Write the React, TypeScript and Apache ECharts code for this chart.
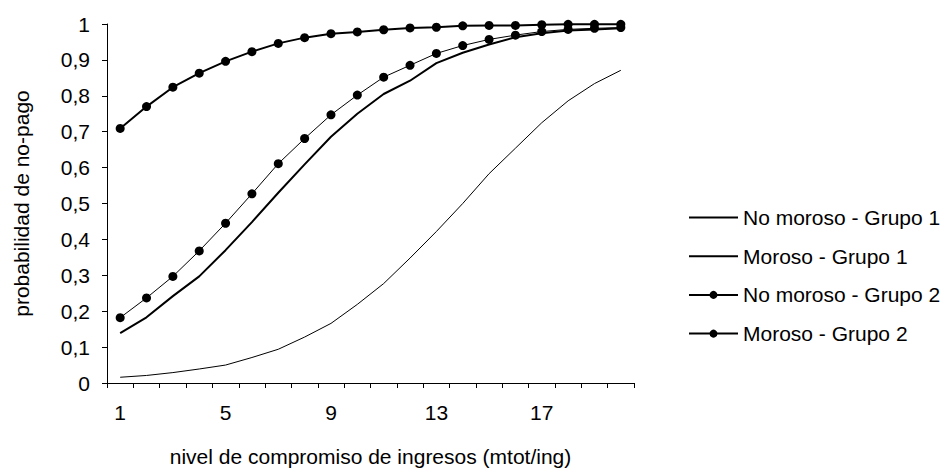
import React, { useEffect, useRef } from "react";
import * as echarts from "echarts";

const categories = ["1","2","3","4","5","6","7","8","9","10","11","12","13","14","15","16","17","18","19","20"];
const noMorosoG1 = [0.016,0.021,0.029,0.039,0.050,0.071,0.094,0.128,0.166,0.219,0.277,0.348,0.422,0.500,0.583,0.654,0.725,0.786,0.834,0.871];
const morosoG1 = [0.139,0.183,0.242,0.297,0.370,0.448,0.530,0.609,0.686,0.750,0.805,0.842,0.891,0.920,0.943,0.963,0.974,0.982,0.985,0.988];
const noMorosoG2 = [0.182,0.237,0.297,0.368,0.445,0.527,0.611,0.681,0.747,0.802,0.852,0.885,0.918,0.940,0.957,0.969,0.979,0.985,0.988,0.990];
const morosoG2 = [0.709,0.770,0.824,0.863,0.896,0.923,0.946,0.962,0.973,0.978,0.984,0.989,0.991,0.995,0.996,0.996,0.998,0.999,0.999,0.999];
const seriesNames = ["No moroso - Grupo 1","Moroso - Grupo 1","No moroso - Grupo 2","Moroso - Grupo 2"];

const FONT = "Liberation Sans";
const FS = 21;

export default function App() {
  const ref = useRef<HTMLDivElement>(null);
  useEffect(() => {
    if (!ref.current) return;
    const chart = echarts.init(ref.current, undefined, { renderer: "svg" });
    const mk = (name: string, data: number[], width: number, marker: boolean) => ({
      name,
      type: "line",
      data,
      symbol: marker ? "circle" : "none",
      symbolSize: 9,
      showSymbol: marker,
      lineStyle: { color: "#000", width },
      itemStyle: { color: "#000", opacity: marker ? 1 : 0 },
      z: marker ? 3 : 2,
    });
    chart.setOption({
      animation: false,
      backgroundColor: "#fff",
      textStyle: { fontFamily: FONT, color: "#000" },
      grid: { left: 107, top: 24, right: 309, bottom: 84, containLabel: false },
      legend: {
        orient: "vertical",
        left: 683,
        top: 202,
        itemWidth: 49,
        itemHeight: 10,
        itemGap: 17.7,
        data: seriesNames,
        textStyle: { fontFamily: FONT, fontSize: FS, lineHeight: 20, color: "#000" },
      },
      xAxis: {
        type: "category",
        data: categories,
        boundaryGap: true,
        name: "nivel de compromiso de ingresos (mtot/ing)",
        nameLocation: "middle",
        nameGap: 63,
        nameTextStyle: { fontFamily: FONT, fontSize: FS, color: "#000" },
        axisLine: { lineStyle: { color: "#000", width: 1 } },
        axisTick: { show: true, interval: 0, length: 5, lineStyle: { color: "#000" } },
        axisLabel: { interval: 3, margin: 19, fontFamily: FONT, fontSize: FS, color: "#000" },
        splitLine: { show: false },
      },
      yAxis: {
        type: "value",
        min: 0,
        max: 1,
        interval: 0.1,
        name: "probabilidad de no-pago",
        nameLocation: "middle",
        nameGap: 75,
        nameRotate: 90,
        nameTextStyle: { fontFamily: FONT, fontSize: FS, color: "#000" },
        axisLine: { show: true, lineStyle: { color: "#000", width: 1 } },
        axisTick: { show: true, length: 5, lineStyle: { color: "#000" } },
        axisLabel: {
          margin: 17,
          fontFamily: FONT,
          fontSize: FS,
          color: "#000",
          formatter: (v: number) => String(Math.round(v * 10) / 10).replace(".", ","),
        },
        splitLine: { show: false },
      },
      series: [
        mk(seriesNames[0], noMorosoG1, 1, false),
        mk(seriesNames[1], morosoG1, 2, false),
        mk(seriesNames[2], noMorosoG2, 1, true),
        mk(seriesNames[3], morosoG2, 2, true),
      ],
    });
    return () => chart.dispose();
  }, []);
  return (
    <div
      ref={ref}
      style={{ position: "fixed", left: 0, top: 0, width: 943, height: 472 }}
    />
  );
}
